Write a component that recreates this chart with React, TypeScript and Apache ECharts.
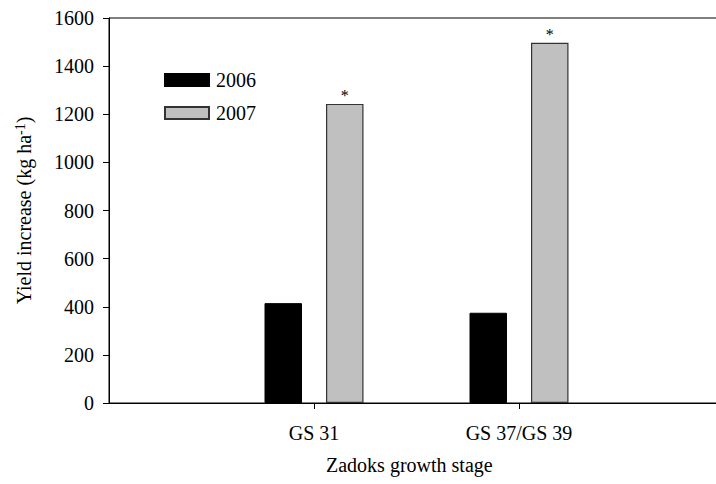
import React, { useEffect, useRef } from "react";
import * as echarts from "echarts";

const categories = ["", "GS 31", "GS 37/GS 39", ""];
const series2006 = [null, 415, 375, null];
const series2007 = [null, 1243, 1497, null];
const significance2007 = ["", "*", "*", ""];
const yTicks = { min: 0, max: 1600, interval: 200 };

const FONT = "'Liberation Serif', 'Times New Roman', serif";
const FS = 20;

export default function App() {
  const ref = useRef<HTMLDivElement>(null);
  useEffect(() => {
    if (!ref.current) return;
    const chart = echarts.init(ref.current, null, { renderer: "svg" });
    chart.setOption({
      animation: false,
      backgroundColor: "#fff",
      textStyle: { fontFamily: FONT, color: "#000" },
      grid: {
        left: 109,
        top: 18,
        width: 615,
        height: 385,
        outerBoundsMode: "none",
        containLabel: false,
        show: true,
        borderColor: "#000",
        borderWidth: 1,
        backgroundColor: "transparent",
      },
      legend: {
        left: 159,
        top: 65,
        orient: "vertical",
        itemWidth: 44,
        itemHeight: 12,
        itemGap: 13,
        icon: "rect",
        textStyle: { fontFamily: FONT, fontSize: FS, color: "#000", padding: [0, 0, 0, 2] },
        data: ["2006", "2007"],
      },
      xAxis: {
        type: "category",
        data: categories,
        boundaryGap: false,
        axisLine: { lineStyle: { color: "#000", width: 1 } },
        axisTick: {
          show: true,
          length: 6,
          lineStyle: { color: "#000" },
          interval: (i: number) => i === 1 || i === 2,
        },
        axisLabel: {
          fontFamily: FONT,
          fontSize: FS,
          color: "#000",
          margin: 20,
          interval: 0,
        },
        splitLine: { show: false },
      },
      yAxis: {
        type: "value",
        min: yTicks.min,
        max: yTicks.max,
        interval: yTicks.interval,
        axisLine: { show: true, lineStyle: { color: "#000", width: 1 } },
        axisTick: { show: true, length: 6, lineStyle: { color: "#000" } },
        axisLabel: {
          fontFamily: FONT,
          fontSize: FS,
          color: "#000",
          margin: 15,
          formatter: (v: number) => String(v),
        },
        splitLine: { show: false },
        name: "{a|Yield increase (kg ha}{s|-1}{a|)}",
        nameLocation: "middle",
        nameGap: 74,
        nameRotate: 90,
        nameTextStyle: {
          rich: {
            a: { fontFamily: FONT, fontSize: FS, color: "#000" },
            s: { fontFamily: FONT, fontSize: 14, color: "#000", verticalAlign: "top", padding: [0, 0, 8, 0] },
          },
        },
      },
      graphic: [
        {
          type: "text",
          left: 326,
          top: 455,
          style: { text: "Zadoks growth stage", fontFamily: FONT, fontSize: FS, fill: "#000" },
        },
      ],
      series: [
        {
          name: "2006",
          type: "bar",
          data: series2006,
          barWidth: 37.5,
          barGap: "64%",
          itemStyle: { color: "#000", borderColor: "#000", borderWidth: 1 },
        },
        {
          name: "2007",
          type: "bar",
          data: series2007,
          barWidth: 37.5,
          itemStyle: { color: "#c0c0c0", borderColor: "#333", borderWidth: 1.2 },
          label: {
            show: true,
            position: "top",
            distance: 0,
            fontFamily: FONT,
            fontSize: 16,
            color: "#000",
            formatter: (p: any) => significance2007[p.dataIndex] || "",
          },
        },
      ],
    });
    return () => chart.dispose();
  }, []);
  return (
    <div
      ref={ref}
      style={{ position: "fixed", left: 0, top: 0, width: 716, height: 484 }}
    />
  );
}
